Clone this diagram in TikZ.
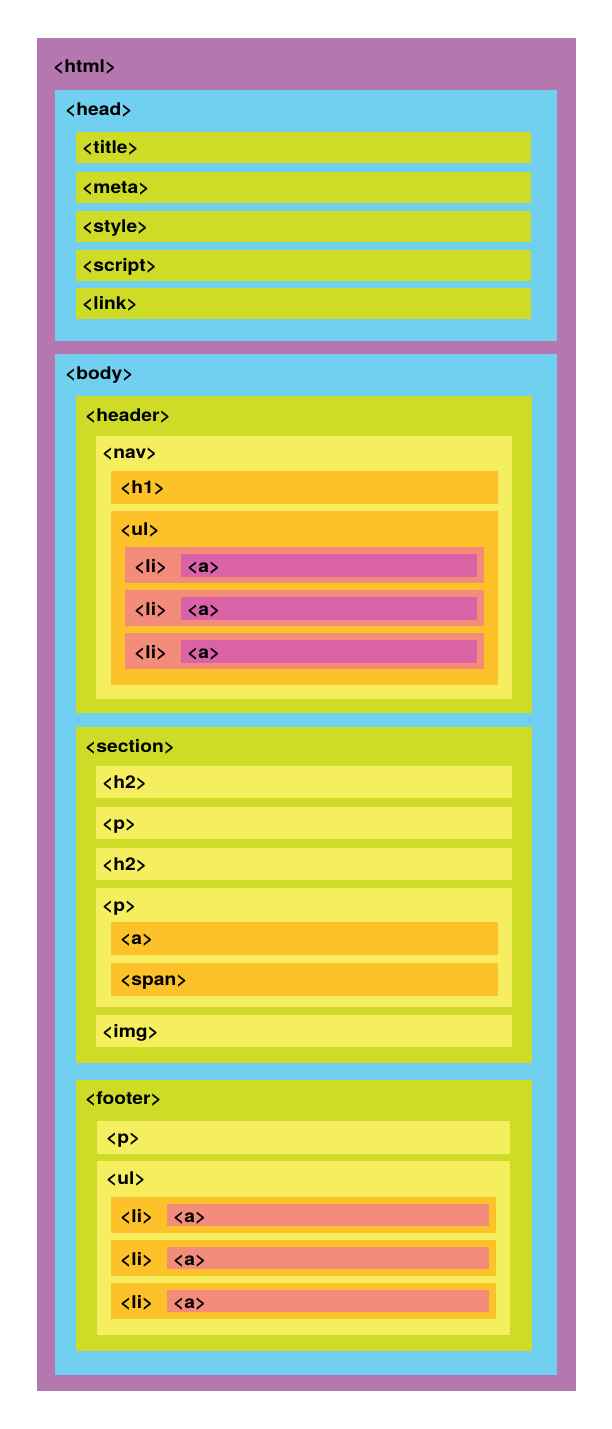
\documentclass[tikz,border=0pt]{standalone}
\usepackage{fontspec}
\setmainfont{TeX Gyre Heros}
\usepackage{graphicx}
\usepackage{xcolor}
\usepackage{tikz}
\definecolor{htmlc}{HTML}{B477B0}
\definecolor{bluec}{HTML}{71CFEF}
\definecolor{limec}{HTML}{CEDC28}
\definecolor{yelc}{HTML}{F5EE5E}
\definecolor{orac}{HTML}{FDC12A}
\definecolor{salc}{HTML}{F48C7C}
\definecolor{pinkc}{HTML}{DA62A6}
\tikzset{
  tagtxt/.style={anchor=base west,inner sep=0pt,text=black,font=\bfseries\fontsize{17.5}{17.5}\selectfont}
}
\newcommand{\tg}[1]{\scalebox{1.1}[1]{<#1>}}
% name, colour, x1, y1, x2, y2, label dx, label dy, tag
\newcommand{\tagbox}[9]{%
  \fill[#2] (#3,#4) rectangle (#5,#6);
  \node[tagtxt] (#1) at (#3+#7,#4+#8) {\tg{#9}};}

\begin{document}
\begin{tikzpicture}[x=1pt,y=-1pt]
\useasboundingbox[fill=white] (0,0) rectangle (612,1429);
\tagbox{html}{htmlc}{37}{38}{576}{1391}{16}{34}{html}
% head
\tagbox{head}{bluec}{55}{90}{557}{341}{10}{25}{head}
\tagbox{title}{limec}{76}{132}{531}{163}{6}{21}{title}
\tagbox{meta}{limec}{76}{172}{531}{203}{6}{21}{meta}
\tagbox{style}{limec}{76}{211}{531}{242}{6}{21}{style}
\tagbox{script}{limec}{76}{250}{531}{281}{6}{21}{script}
\tagbox{link}{limec}{76}{288}{531}{319}{6}{21}{link}
% body
\tagbox{body}{bluec}{55}{354}{557}{1375}{10}{25}{body}
\tagbox{header}{limec}{76}{396}{532}{713}{9}{25}{header}
\tagbox{nav}{yelc}{96}{436}{512}{699}{6}{22}{nav}
\tagbox{hone}{orac}{111}{471}{498}{504}{9}{22}{h1}
\tagbox{navul}{orac}{111}{511}{498}{685}{9}{24}{ul}
\foreach \i in {0,1,2}{
  \pgfmathsetmacro\yy{547+43*\i}
  \tagbox{navli\i}{salc}{125}{\yy}{484}{\yy+36}{9}{25}{li}
  \tagbox{nava\i}{pinkc}{181}{\yy+7}{477}{\yy+30}{6}{18}{a}
}
\tagbox{section}{limec}{76}{727}{532}{1063}{9}{25}{section}
\tagbox{htwoa}{yelc}{96}{766}{512}{798}{6}{22}{h2}
\tagbox{pa}{yelc}{96}{807}{512}{839}{6}{22}{p}
\tagbox{htwob}{yelc}{96}{848}{512}{880}{6}{22}{h2}
\tagbox{pb}{yelc}{96}{888}{512}{1007}{6}{23}{p}
\tagbox{pba}{orac}{111}{922}{498}{955}{9}{22}{a}
\tagbox{pbspan}{orac}{111}{963}{498}{996}{9}{22}{span}
\tagbox{img}{yelc}{96}{1015}{512}{1047}{6}{22}{img}
\tagbox{footer}{limec}{76}{1080}{532}{1351}{9}{24}{footer}
\tagbox{footp}{yelc}{97}{1121}{510}{1154}{9}{22}{p}
\tagbox{footul}{yelc}{97}{1161}{510}{1335}{9}{23}{ul}
\foreach \i in {0,1,2}{
  \pgfmathsetmacro\yy{1197+43*\i}
  \tagbox{footli\i}{orac}{111}{\yy}{496}{\yy+36}{9}{25}{li}
  \tagbox{foota\i}{salc}{167}{\yy+7}{489}{\yy+29}{6}{18}{a}
}
\end{tikzpicture}
\end{document}
